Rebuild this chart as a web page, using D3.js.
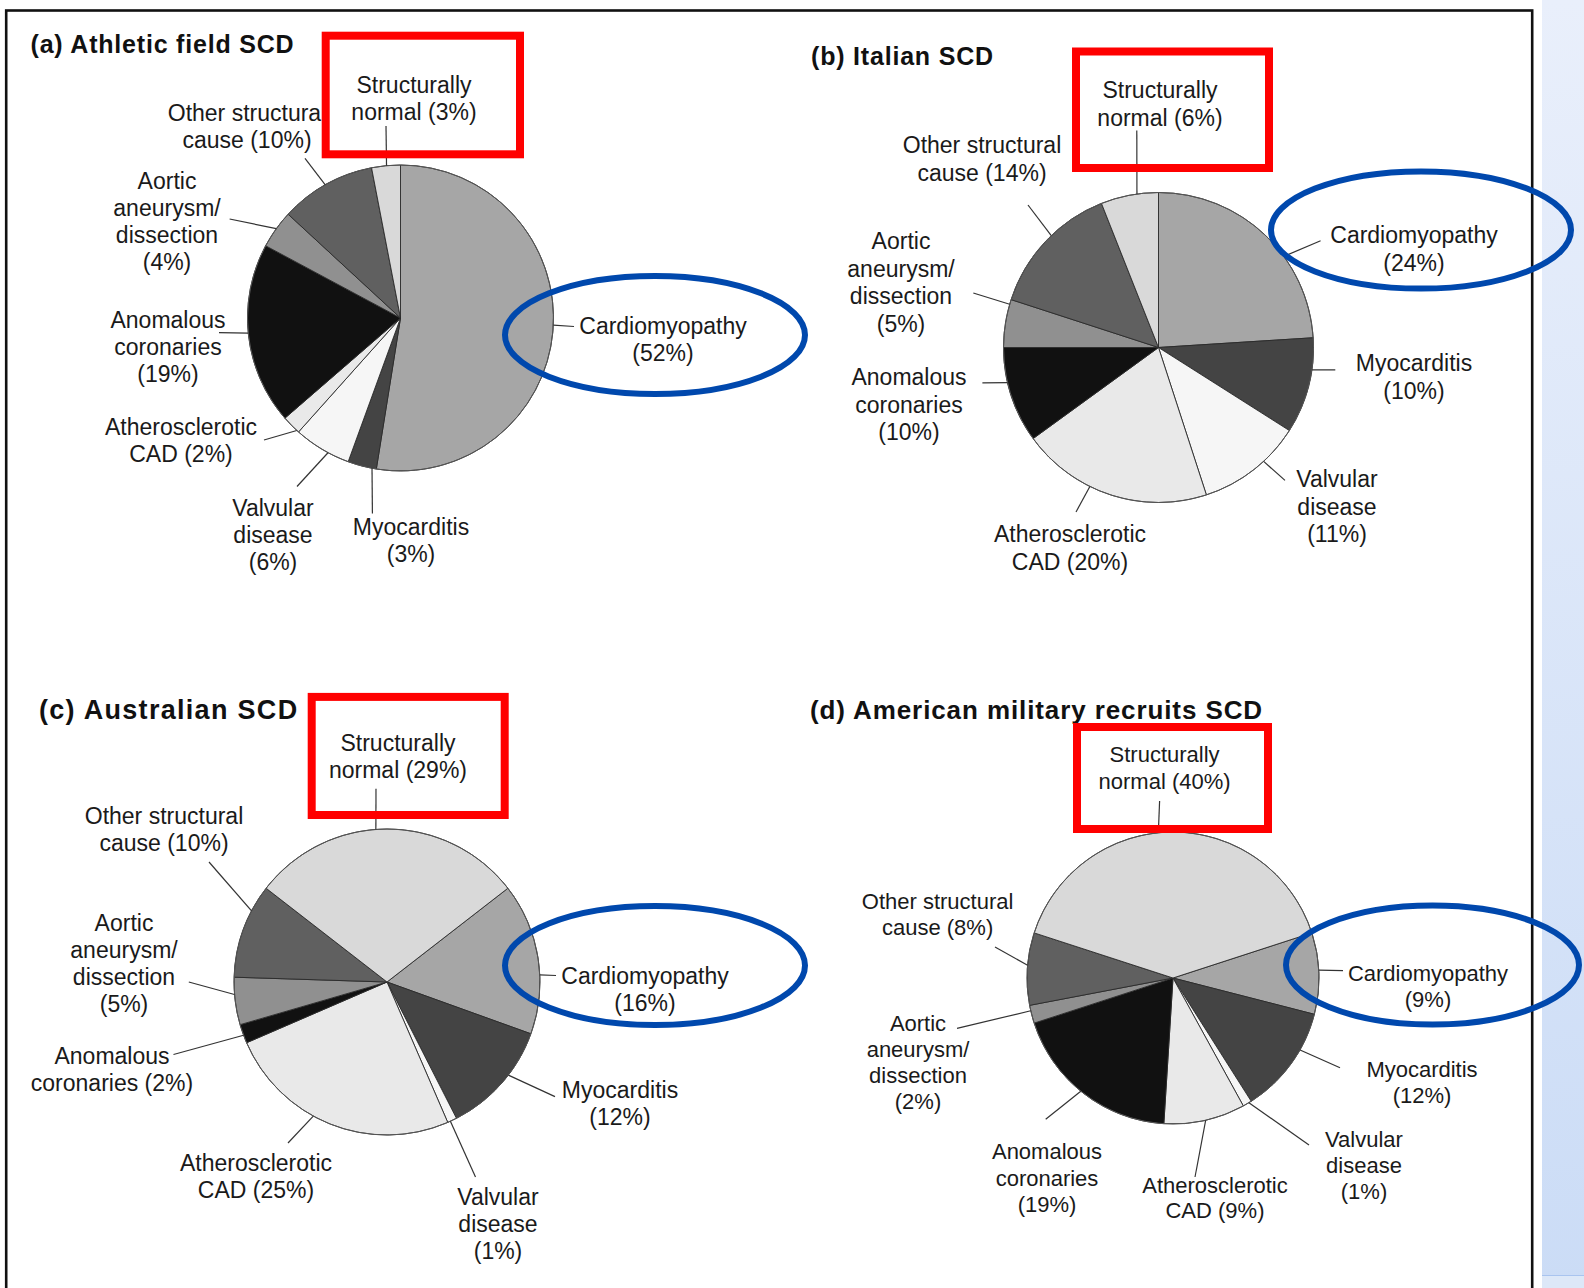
<!DOCTYPE html>
<html><head><meta charset="utf-8">
<script src="https://cdn.jsdelivr.net/npm/d3@7"></script>
<style>html,body{margin:0;padding:0;background:#fff;overflow:hidden;} svg{display:block;}</style>
</head><body>
<script>
// ---------- DATA ----------
const categories = ["Cardiomyopathy", "Myocarditis", "Valvular disease", "Atherosclerotic CAD",
  "Anomalous coronaries", "Aortic aneurysm/dissection", "Other structural cause", "Structurally normal"];
const panelTitles = ["(a) Athletic field SCD", "(b) Italian SCD", "(c) Australian SCD", "(d) American military recruits SCD"];
const athleticValues   = [52, 3, 6, 2, 19, 4, 10, 3];
const italianValues    = [24, 10, 11, 20, 10, 5, 14, 6];
const australianValues = [16, 12, 1, 25, 2, 5, 10, 29];
const militaryValues   = [9, 12, 1, 9, 19, 2, 8, 40];
const sliceColors = ["#a6a6a6", "#444444", "#f6f6f6", "#e9e9e9", "#111111", "#909090", "#606060", "#d9d9d9"];
// label line templates ({v} = value)
const labelLines = [
  ["Cardiomyopathy", "({v}%)"],
  ["Myocarditis", "({v}%)"],
  ["Valvular", "disease", "({v}%)"],
  ["Atherosclerotic", "CAD ({v}%)"],
  ["Anomalous", "coronaries", "({v}%)"],
  ["Aortic", "aneurysm/", "dissection", "({v}%)"],
  ["Other structural", "cause ({v}%)"],
  ["Structurally", "normal ({v}%)"]
];
const australianAnomalousLines = ["Anomalous", "coronaries ({v}%)"];

// ---------- LAYOUT ----------
const W = 1584, H = 1288;
const panels = [
  { values: athleticValues, title: panelTitles[0], cx: 400.5, cy: 318, r: 153, centerNormal: false,
    fs: 23, lh: 27, tx: 30.5, ty: 53, tfs: 25, tls: 0.8,
    box: [325.7, 35.7, 520, 154.3], ell: [655, 335, 150, 59],
    labels: [
      { x: 663, y: 334, ox: 574, oy: 326.5, f: 0.49 },
      { x: 411, y: 535, ox: 372.4, oy: 513.5, f: 0.15 },
      { x: 273, y: 516, ox: 297, oy: 486.5, f: 0.38 },
      { x: 181, y: 435, ox: 264, oy: 440, f: 0.12 },
      { x: 168, y: 328, ox: 219, oy: 332.7, f: 0.51 },
      { x: 167, y: 188.5, ox: 229.6, oy: 219, f: 0.52 },
      { x: 247, y: 121, ox: 305, oy: 158.4, f: 0.49 },
      { x: 414, y: 93, ox: 386, oy: 126, f: 0.52 }
    ] },
  { values: italianValues, title: panelTitles[1], cx: 1158.5, cy: 347.5, r: 155, centerNormal: false,
    fs: 23, lh: 27.5, tx: 811, ty: 65, tfs: 25, tls: 0.8,
    box: [1076, 51.5, 1269, 168], ell: [1421, 230, 150, 58.6],
    labels: [
      { x: 1414, y: 243, ox: 1320.6, oy: 240.8, f: 0.625 },
      { x: 1414, y: 371.4, ox: 1335.3, oy: 369.8, f: 0.33 },
      { x: 1337, y: 487, ox: 1285, oy: 480.4, f: 0.376 },
      { x: 1070, y: 542, ox: 1076, oy: 512, f: 0.615 },
      { x: 909, y: 385, ox: 982.4, oy: 382.9, f: 0.636 },
      { x: 901, y: 249, ox: 973.3, oy: 293, f: 0.9 },
      { x: 982, y: 153, ox: 1028, oy: 205, f: 0.56 },
      { x: 1160, y: 98, ox: 1136.8, oy: 130.6, f: 0.63 }
    ] },
  { values: australianValues, title: panelTitles[2], cx: 387, cy: 982, r: 153, centerNormal: true,
    fs: 23, lh: 27, tx: 39, ty: 718.5, tfs: 27, tls: 1.3,
    box: [311.7, 696.9, 504.7, 815], ell: [655, 965.5, 150, 59.5],
    labels: [
      { x: 645, y: 984, ox: 556, oy: 975.5, f: 0.61 },
      { x: 620, y: 1098, ox: 555, oy: 1096.6, f: 0.41 },
      { x: 498, y: 1205, ox: 475.5, oy: 1177, f: 0.7 },
      { x: 256, y: 1171, ox: 288, oy: 1143, f: 0.58 },
      { x: 112, y: 1064, ox: 173.5, oy: 1054.5, f: 0.42, lines: australianAnomalousLines },
      { x: 124, y: 931, ox: 188.8, oy: 982, f: 0.64 },
      { x: 164, y: 824, ox: 209, oy: 862, f: 0.72 },
      { x: 398, y: 751, ox: 376, oy: 788.8, f: 0.46 }
    ] },
  { values: militaryValues, title: panelTitles[3], cx: 1173, cy: 978, r: 146, centerNormal: true,
    fs: 22, lh: 26, tx: 810, ty: 718.5, tfs: 26, tls: 0.9,
    box: [1077, 727, 1268, 829], ell: [1432.5, 965, 146.5, 59.5],
    labels: [
      { x: 1428, y: 981, ox: 1343, oy: 970.6, f: 0.46 },
      { x: 1422, y: 1077, ox: 1340, oy: 1067.7, f: 0.35 },
      { x: 1364, y: 1147.4, ox: 1309, oy: 1145, f: 0.3 },
      { x: 1215, y: 1192.5, ox: 1195, oy: 1177, f: 0.49, lh: 25 },
      { x: 1047, y: 1158.6, ox: 1045.7, oy: 1119.3, f: 0.52, lh: 26.9 },
      { x: 918, y: 1030.5, ox: 957, oy: 1028.4, f: 0.7 },
      { x: 937.6, y: 909.4, ox: 995, oy: 947, f: 0.55, lh: 25.2 },
      { x: 1164.6, y: 762, ox: 1159.6, oy: 801, f: 0.46, lh: 26.8 }
    ] }
];

const FONT = "'Liberation Sans', Arial, Helvetica, sans-serif";

const svg = d3.select("body").append("svg").attr("width", W).attr("height", H);

// right-side blue panel
const defs = svg.append("defs");
const grad = defs.append("linearGradient").attr("id", "sideGrad").attr("x1", 0).attr("y1", 0).attr("x2", 0).attr("y2", 1);
grad.append("stop").attr("offset", "0%").attr("stop-color", "#e9effb");
grad.append("stop").attr("offset", "100%").attr("stop-color", "#cbdcf6");
svg.append("rect").attr("x", 1542).attr("y", 0).attr("width", W - 1542).attr("height", H).attr("fill", "url(#sideGrad)");
svg.append("line").attr("x1", 1542).attr("x2", W).attr("y1", 1275.5).attr("y2", 1275.5).attr("stroke", "#a9c4ef").attr("stroke-width", 1);
svg.append("rect").attr("x", 1542).attr("y", 1276).attr("width", W - 1542).attr("height", H - 1276).attr("fill", "#dde8f8");

// outer border
svg.append("rect").attr("x", 6.2).attr("y", 10.5).attr("width", 1526).attr("height", 1320)
  .attr("fill", "none").attr("stroke", "#111").attr("stroke-width", 2.6);

panels.forEach(p => {
  const g = svg.append("g");
  const total = d3.sum(p.values);
  const start = p.centerNormal ? Math.PI * p.values[p.values.length - 1] / total : 0;
  const pie = d3.pie().value(d => d).sort(null).startAngle(start).endAngle(start + 2 * Math.PI);
  const arcs = pie(p.values);
  const arc = d3.arc().innerRadius(0).outerRadius(p.r);

  const pg = g.append("g").attr("transform", `translate(${p.cx},${p.cy})`);
  pg.selectAll("path").data(arcs).join("path")
    .attr("d", arc)
    .attr("fill", (d, i) => sliceColors[i])
    .attr("stroke", "#2a2a2a")
    .attr("stroke-width", 0.9)
    .attr("stroke-linejoin", "round");
  pg.append("circle").attr("r", p.r).attr("fill", "none").attr("stroke", "#555").attr("stroke-width", 1);

  // leaders
  arcs.forEach((a, i) => {
    const L = p.labels[i];
    const ang = a.startAngle + L.f * (a.endAngle - a.startAngle);
    const ix = p.cx + p.r * Math.sin(ang), iy = p.cy - p.r * Math.cos(ang);
    g.append("line").attr("x1", ix).attr("y1", iy).attr("x2", L.ox).attr("y2", L.oy)
      .attr("stroke", "#333").attr("stroke-width", 1.2);
  });

  // labels
  arcs.forEach((a, i) => {
    const L = p.labels[i];
    const lines = (L.lines || labelLines[i]).map(s => s.replace("{v}", p.values[i]));
    const lh = L.lh || p.lh;
    const t = g.append("text").attr("font-family", FONT).attr("font-size", p.fs)
      .attr("fill", "#1a1a1a").attr("text-anchor", "middle");
    lines.forEach((s, k) => {
      t.append("tspan").attr("x", L.x).attr("y", L.y + k * lh).text(s);
    });
  });

  // title
  g.append("text").attr("x", p.tx).attr("y", p.ty).attr("font-family", FONT)
    .attr("font-size", p.tfs).attr("font-weight", "bold").attr("letter-spacing", p.tls)
    .attr("fill", "#111").text(p.title);

  // red box
  const b = p.box;
  g.append("rect").attr("x", b[0]).attr("y", b[1]).attr("width", b[2] - b[0]).attr("height", b[3] - b[1])
    .attr("fill", "none").attr("stroke", "#ff0000").attr("stroke-width", 8);

  // blue ellipse
  const e = p.ell;
  g.append("ellipse").attr("cx", e[0]).attr("cy", e[1]).attr("rx", e[2]).attr("ry", e[3])
    .attr("fill", "none").attr("stroke", "#0048ad").attr("stroke-width", 6);
});
</script>
</body></html>
